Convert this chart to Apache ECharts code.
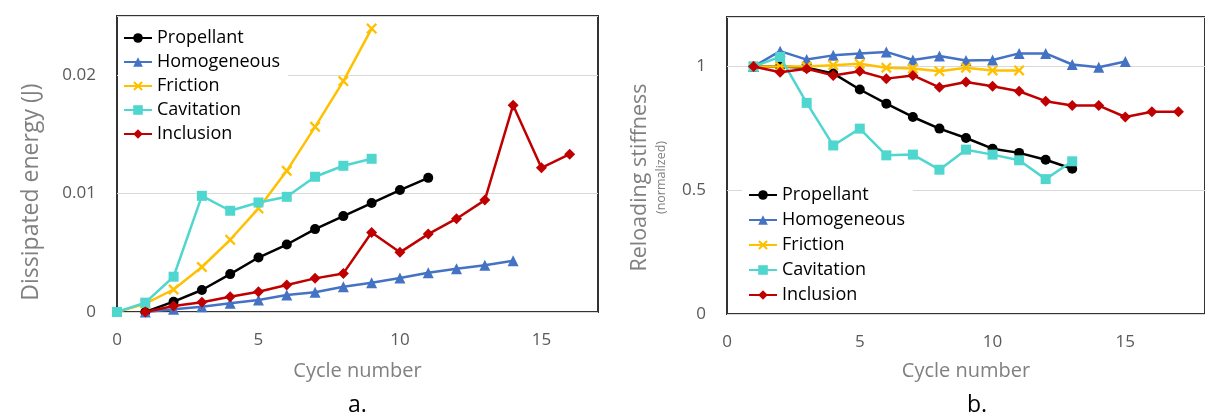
<!DOCTYPE html>
<html><head><meta charset="utf-8">
<script src="https://cdn.jsdelivr.net/npm/echarts@6/dist/echarts.min.js"></script>
<style>html,body{margin:0;padding:0;background:#fff}#c{width:1205px;height:413px}</style>
</head><body><div id="c"></div>
<script>
const seriesNames = ['Propellant','Homogeneous','Friction','Cavitation','Inclusion'];
// Chart a: dissipated energy (J); start cycle for each series
const aStart = [1, 1, 0, 0, 1];
const aPropellant = [0,0.00087,0.00186,0.0032,0.0046,0.0057,0.0070,0.0081,0.0092,0.0103,0.01133];
const aHomogeneous = [0,0.00023,0.00045,0.00073,0.00101,0.00143,0.00166,0.00214,0.00247,0.00287,0.00332,0.00365,0.00394,0.00433];
const aFriction = [0,0.0007,0.0019,0.0038,0.0061,0.00875,0.01192,0.01564,0.0195,0.02394];
const aCavitation = [0,0.00079,0.00298,0.00981,0.00855,0.00925,0.00973,0.01142,0.01235,0.01294];
const aInclusion = [0,0.00051,0.00082,0.00129,0.00171,0.00228,0.00284,0.00326,0.00672,0.00504,0.00658,0.00788,0.00945,0.01747,0.01218,0.01333];
// Chart b: reloading stiffness (normalized), all start at cycle 1
const bStart = [1, 1, 1, 1, 1];
const bPropellant = [1.0,1.0,0.995,0.972,0.907,0.850,0.796,0.749,0.711,0.668,0.651,0.623,0.587];
const bHomogeneous = [1.0,1.062,1.028,1.045,1.053,1.059,1.026,1.042,1.024,1.026,1.053,1.053,1.008,0.997,1.02];
const bFriction = [1.0,1.0,1.0,1.005,1.011,0.995,0.992,0.981,0.995,0.984,0.984];
const bCavitation = [1.0,1.039,0.853,0.681,0.749,0.641,0.644,0.583,0.664,0.644,0.621,0.545,0.617];
const bInclusion = [1.0,0.977,0.991,0.964,0.981,0.951,0.964,0.916,0.937,0.920,0.900,0.860,0.842,0.842,0.796,0.817,0.817];
const aTicks = ['0','0.01','0.02'];
const bTicks = ['0','0.5','1'];
const xTickLabels = ['0','5','10','15'];

const colors = ['#000000','#4472C4','#FFC000','#4FD6CF','#C00000'];
const crossPath = 'path://M0,1.5L1.5,0L5,3.5L8.5,0L10,1.5L6.5,5L10,8.5L8.5,10L5,6.5L1.5,10L0,8.5L3.5,5Z';
const symbols = ['circle','triangle',crossPath,'rect','diamond'];
const symSizes = [10,11,11,10,11];

const aData = [aPropellant,aHomogeneous,aFriction,aCavitation,aInclusion];
const bData = [bPropellant,bHomogeneous,bFriction,bCavitation,bInclusion];
function pairs(arr, start){ return arr.map((v,i)=>[start+i, v]); }

const FONT = 'Open Sans';
const series = [];
seriesNames.forEach((n,i)=>{
  series.push({name:n,type:'line',xAxisIndex:0,yAxisIndex:0,data:pairs(aData[i],aStart[i]),
    symbol:symbols[i],symbolSize:symSizes[i],showAllSymbol:true,
    lineStyle:{color:colors[i],width:2.5},itemStyle:{color:colors[i]},z:2+i,animation:false});
});
seriesNames.forEach((n,i)=>{
  series.push({name:n,type:'line',xAxisIndex:1,yAxisIndex:1,data:pairs(bData[i],bStart[i]),
    symbol:symbols[i],symbolSize:symSizes[i],showAllSymbol:true,
    lineStyle:{color:colors[i],width:2.5},itemStyle:{color:colors[i]},z:2+i,animation:false});
});

const chart = echarts.init(document.getElementById('c'));
const axisLbl = {color:'#595959',fontSize:17,fontFamily:FONT};
const titleStyle = {color:'#808080',fontSize:20,fontFamily:FONT};
const legendCommon = {orient:'vertical',backgroundColor:'#fff',itemWidth:28,itemHeight:12,
  textStyle:{color:'#000',fontSize:18,fontFamily:FONT},data:seriesNames,selectedMode:false,z:10};
chart.setOption({
  animation:false,
  textStyle:{fontFamily:FONT},
  title:[
    {text:'a.',left:348,top:394,padding:0,textStyle:{fontSize:23,fontWeight:'normal',color:'#000',fontFamily:FONT}},
    {text:'b.',left:967,top:394,padding:0,textStyle:{fontSize:23,fontWeight:'normal',color:'#000',fontFamily:FONT}}
  ],
  legend:[
    Object.assign({left:118,top:25,itemGap:6,padding:[4,8,4,5]},legendCommon),
    Object.assign({left:742,top:182,itemGap:7,padding:[4,8,4,6]},legendCommon)
  ],
  grid:[
    {left:117,top:16,width:481,height:296,show:true,borderColor:'#333333',borderWidth:2,containLabel:false},
    {left:727,top:17,width:486,height:297,show:true,borderColor:'#333333',borderWidth:2,containLabel:false}
  ],
  xAxis:[
    {type:'value',gridIndex:0,min:0,max:17,interval:5,
     axisLine:{show:false},axisTick:{show:false},splitLine:{show:false},
     axisLabel:Object.assign({margin:20,showMaxLabel:false,formatter:v=>xTickLabels[v/5]||''},axisLbl),
     name:'Cycle number',nameLocation:'middle',nameGap:49,nameTextStyle:titleStyle},
    {type:'value',gridIndex:1,min:0,max:18,interval:5,
     axisLine:{show:false},axisTick:{show:false},splitLine:{show:false},
     axisLabel:Object.assign({margin:20,showMaxLabel:false,formatter:v=>xTickLabels[v/5]||''},axisLbl),
     name:'Cycle number',nameLocation:'middle',nameGap:47,nameTextStyle:titleStyle}
  ],
  yAxis:[
    {type:'value',gridIndex:0,min:0,max:0.025,interval:0.01,
     axisLine:{show:false},axisTick:{show:false},
     splitLine:{show:true,lineStyle:{color:'#d9d9d9',width:1}},
     axisLabel:Object.assign({margin:21,showMaxLabel:false,formatter:v=>aTicks[Math.round(v/0.01)]||''},axisLbl),
     name:'Dissipated energy (J)',nameLocation:'middle',nameGap:74,
     nameTextStyle:Object.assign({},titleStyle,{fontSize:23,padding:[0,56,0,0]})},
    {type:'value',gridIndex:1,min:0,max:1.2,interval:0.5,
     axisLine:{show:false},axisTick:{show:false},
     splitLine:{show:true,lineStyle:{color:'#d9d9d9',width:1}},
     axisLabel:Object.assign({margin:21,showMaxLabel:false,formatter:v=>bTicks[Math.round(v/0.5)]||''},axisLbl),
     name:'{a|Reloading stiffness}\n{b|(normalized)}',nameLocation:'middle',nameGap:58,
     nameTextStyle:{color:'#808080',fontFamily:FONT,align:'center',padding:[0,24,0,0],
       rich:{a:{fontSize:21.5,color:'#808080',fontFamily:FONT,lineHeight:27},b:{fontSize:12.5,color:'#808080',fontFamily:FONT,lineHeight:16}}}}
  ],
  series:series
});
</script></body></html>
